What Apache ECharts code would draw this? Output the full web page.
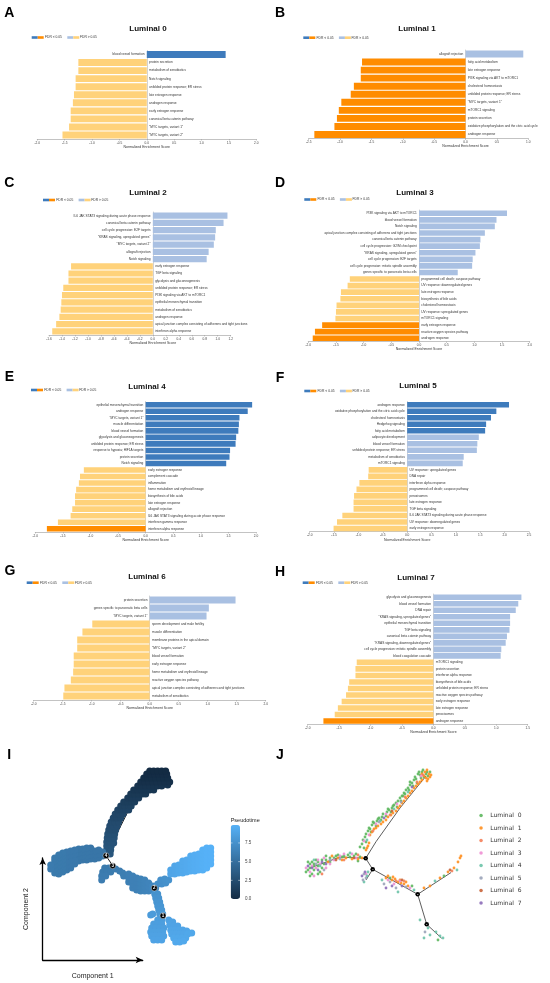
<!DOCTYPE html>
<html>
<head>
<meta charset="utf-8">
<script src="https://cdn.jsdelivr.net/npm/echarts@6/dist/echarts.min.js"></script>
<style>
html, body { margin: 0; padding: 0; background: #fff; }
#main { width: 550px; height: 983px; }
</style>
</head>
<body>
<div id="main"></div>
<script>
// ---- GSEA bar panels (NES, FDR<0.05 flag) ----
var lum0Terms = ['blood vessel formation', 'protein secretion', 'metabolism of xenobiotics', 'Notch signaling',
    'unfolded protein response; ER stress', 'late estrogen response', 'androgen response', 'early estrogen response',
    'canonical beta catenin pathway', '"MYC targets, variant 1"', '"MYC targets, variant 2"'];
var lum0Nes = [1.44, -1.25, -1.25, -1.30, -1.30, -1.33, -1.35, -1.39, -1.39, -1.42, -1.54];
var lum0Sig = [1, 0, 0, 0, 0, 0, 0, 0, 0, 0, 0];

var lum1Terms = ['allograft rejection', 'fatty acid metabolism', 'late estrogen response', 'PI3K signaling via AKT to mTORC1',
    'cholesterol homeostasis', 'unfolded protein response; ER stress', '"MYC targets, variant 1"', 'mTORC1 signaling',
    'protein secretion', 'oxidative phosphorylation and the citric acid cycle', 'androgen response'];
var lum1Nes = [0.92, -1.65, -1.67, -1.67, -1.78, -1.83, -1.98, -2.02, -2.05, -2.09, -2.41];
var lum1Sig = [0, 1, 1, 1, 1, 1, 1, 1, 1, 1, 1];

var lum2Terms = ['IL6 JAK STAT3 signaling during acute phase response', 'canonical beta catenin pathway',
    'cell cycle progression: E2F targets', '"KRAS signaling, upregulated genes"', '"MYC targets, variant 2"',
    'allograft rejection', 'Notch signaling', 'early estrogen response', 'TGF beta signaling',
    'glycolysis and gluconeogenesis', 'unfolded protein response; ER stress', 'PI3K signaling via AKT to mTORC1',
    'epithelial mesenchymal transition', 'metabolism of xenobiotics', 'androgen response',
    'apical junction complex consisting of adherens and tight junctions', 'interferon alpha response'];
var lum2Nes = [1.15, 1.09, 0.97, 0.96, 0.94, 0.86, 0.83, -1.26, -1.30, -1.30, -1.38, -1.40, -1.41, -1.42, -1.44, -1.49, -1.55];
var lum2Sig = [0, 0, 0, 0, 0, 0, 0, 0, 0, 0, 0, 0, 0, 0, 0, 0, 0];

var lum3Terms = ['PI3K signaling via AKT to mTORC1', 'blood vessel formation', 'Notch signaling',
    'apical junction complex consisting of adherens and tight junctions', 'canonical beta catenin pathway',
    'cell cycle progression: G2/M checkpoint', '"KRAS signaling, upregulated genes"', 'cell cycle progression: E2F targets',
    'cell cycle progression: mitotic spindle assembly', 'genes specific to pancreatic beta cells',
    'programmed cell death; caspase pathway', 'UV response: downregulated genes', 'late estrogen response',
    'biosynthesis of bile acids', 'cholesterol homeostasis', 'UV response: upregulated genes', 'mTORC1 signaling',
    'early estrogen response', 'reactive oxygen species pathway', 'androgen response'];
var lum3Nes = [1.59, 1.40, 1.37, 1.19, 1.11, 1.10, 1.02, 0.97, 0.96, 0.70, -1.25, -1.29, -1.41, -1.42, -1.49, -1.50, -1.51, -1.75, -1.88, -1.92];
var lum3Sig = [0, 0, 0, 0, 0, 0, 0, 0, 0, 0, 0, 0, 0, 0, 0, 0, 0, 1, 1, 1];

var lum4Terms = ['epithelial mesenchymal transition', 'androgen response', '"MYC targets, variant 1"', 'muscle differentiation',
    'blood vessel formation', 'glycolysis and gluconeogenesis', 'unfolded protein response; ER stress',
    'response to hypoxia; HIF1A targets', 'protein secretion', 'Notch signaling', 'early estrogen response',
    'complement cascade', 'inflammation', 'heme metabolism and erythroid lineage', 'biosynthesis of bile acids',
    'late estrogen response', 'allograft rejection', 'IL6 JAK STAT3 signaling during acute phase response',
    'interferon gamma response', 'interferon alpha response'];
var lum4Nes = [1.93, 1.85, 1.70, 1.69, 1.68, 1.64, 1.63, 1.53, 1.52, 1.46, -1.12, -1.19, -1.21, -1.26, -1.28, -1.28, -1.33, -1.36, -1.59, -1.79];
var lum4Sig = [1, 1, 1, 1, 1, 1, 1, 1, 1, 1, 0, 0, 0, 0, 0, 0, 0, 0, 0, 1];

var lum5Terms = ['androgen response', 'oxidative phosphorylation and the citric acid cycle', 'cholesterol homeostasis',
    'Hedgehog signaling', 'fatty acid metabolism', 'adipocyte development', 'blood vessel formation',
    'unfolded protein response; ER stress', 'metabolism of xenobiotics', 'mTORC1 signaling',
    'UV response: upregulated genes', 'DNA repair', 'interferon alpha response', 'programmed cell death; caspase pathway',
    'peroxisomes', 'late estrogen response', 'TGF beta signaling', 'IL6 JAK STAT3 signaling during acute phase response',
    'UV response: downregulated genes', 'early estrogen response'];
var lum5Nes = [2.09, 1.83, 1.72, 1.62, 1.60, 1.47, 1.44, 1.43, 1.16, 1.14, -0.79, -0.80, -0.98, -1.04, -1.09, -1.10, -1.10, -1.33, -1.44, -1.51];
var lum5Sig = [1, 1, 1, 1, 1, 0, 0, 0, 0, 0, 0, 0, 0, 0, 0, 0, 0, 0, 0, 0];

var lum6Terms = ['protein secretion', 'genes specific to pancreatic beta cells', '"MYC targets, variant 1"',
    'sperm development and male fertility', 'muscle differentiation', 'membrane proteins in the apical domain',
    '"MYC targets, variant 2"', 'blood vessel formation', 'early estrogen response', 'heme metabolism and erythroid lineage',
    'reactive oxygen species pathway', 'apical junction complex consisting of adherens and tight junctions',
    'metabolism of xenobiotics'];
var lum6Nes = [1.48, 1.02, 0.98, -0.99, -1.16, -1.25, -1.25, -1.31, -1.31, -1.32, -1.36, -1.47, -1.49];
var lum6Sig = [0, 0, 0, 0, 0, 0, 0, 0, 0, 0, 0, 0, 0];

var lum7Terms = ['glycolysis and gluconeogenesis', 'blood vessel formation', 'DNA repair', '"KRAS signaling, upregulated genes"',
    'epithelial mesenchymal transition', 'TGF beta signaling', 'canonical beta catenin pathway',
    '"KRAS signaling, downregulated genes"', 'cell cycle progression: mitotic spindle assembly', 'blood coagulation cascade',
    'mTORC1 signaling', 'protein secretion', 'interferon alpha response', 'biosynthesis of bile acids',
    'unfolded protein response; ER stress', 'reactive oxygen species pathway', 'early estrogen response',
    'late estrogen response', 'peroxisomes', 'androgen response'];
var lum7Nes = [1.40, 1.35, 1.31, 1.22, 1.22, 1.21, 1.17, 1.15, 1.08, 1.07, -1.22, -1.24, -1.24, -1.34, -1.36, -1.39, -1.46, -1.52, -1.57, -1.75];
var lum7Sig = [0, 0, 0, 0, 0, 0, 0, 0, 0, 0, 0, 0, 0, 0, 0, 0, 0, 0, 0, 1];

// ---- panel I: cells [component1, component2, pseudotime] ----
var topBranchCells = [
    [64,106,3.2],[67.5,106,3.2],[64,110,3.1],[68,110,3.1],[64,114,3.0],[68.5,114,3.0],
    [64,118,2.9],[67.5,118,2.9],[71,117,2.9],[64.5,122,2.8],[68,122,2.8],[71.5,122,2.8],
    [65,126,2.7],[68.5,126,2.7],[72,126,2.7],[66,130,2.5],[69.5,130,2.5],[73,130,2.5],
    [67,134,2.4],[70.5,134,2.4],[74.5,134,2.4],[68.5,138,2.3],[72,138,2.3],[76,138,2.3],
    [70.5,142,2.1],[74,142,2.1],[78,142,2.1],[72.5,146,2.0],[76.5,146,2.0],[80.5,146,2.0],
    [75,150,1.8],[79,150,1.8],[83,150,1.8],[86,150,1.8],[78,154,1.6],[82,154,1.6],[86,154,1.6],[88.5,154,1.6],
    [81,158,1.4],[85,158,1.4],[89,158,1.4],[92,158,1.4],[85,162,1.2],[89,162,1.2],[93,162,1.2],[96,162,1.2],
    [88,166,1.0],[92,166,1.0],[96,166,1.0],[100,166,1.0],[103,166,1.0],
    [91,170,0.8],[95,170,0.8],[99,170,0.8],[103,170,0.8],[107,170,0.8],[111,170,0.8],
    [95,174,0.6],[99,174,0.6],[103,174,0.6],[107,174,0.6],[111,174,0.6],[115,174,0.6],[119,174,0.6],[125,175,0.6],
    [98,178,0.4],[102,178,0.4],[106,178,0.4],[110,178,0.4],[114,178,0.4],[118,178,0.4],[122,178,0.4],[127,178,0.4],
    [101,182,0.2],[105,182,0.2],[109,182,0.2],[113,182,0.2],[117,182,0.2],[121,182,0.2],[125,182,0.2],
    [104,186,0.1],[108,186,0.1],[112,186,0.1],[116,186,0.1],[120,186,0.1],[124,186,0.1],
    [107,189,0],[111,189,0],[115,189,0],[119,189,0],[123,189,0]
];
var leftBranchCells = [
    [60,104,5.4],[60,108,5.4],[56,102,5.5],[56,106,5.5],[56,110,5.5],[52,101,5.5],[52,105,5.5],[52,109,5.5],
    [48,101,5.5],[48,105,5.5],[48,109,5.5],[48,112,5.5],[44,100,5.6],[44,104,5.6],[44,108,5.6],[44,112,5.6],
    [40,100,5.6],[40,104,5.6],[40,108,5.6],[40,111,5.6],[36,99,5.6],[36,103,5.6],[36,107,5.6],[36,111,5.6],
    [32,96,5.7],[32,100,5.7],[32,106,5.7],[32,110,5.7],[28,92,5.7],[28,96,5.7],[28,100,5.7],[28,105,5.7],[28,109,5.7],
    [24,90,5.7],[24,94,5.7],[24,98,5.7],[24,104,5.7],[24,108,5.7],
    [20,88,5.8],[20,92,5.8],[20,96,5.8],[20,100,5.8],[20,104,5.8],[20,107,5.8],
    [16,86,5.8],[16,90,5.8],[16,94,5.8],[16,98,5.8],[16,102,5.8],[16,105,5.8],
    [12,87,5.8],[12,91,5.8],[12,95,5.8],[12,99,5.8],[12,102,5.8],[8,91,5.9],[8,95,5.9]
];
var lobeCells = [[62,92,5.8],[66,92,5.8],[70,92,5.8],[60,88,5.9],[64,88,5.9],[68,88,5.9],[59,84,6.0],[63,84,6.0],[59,80,6.0]];
var middleCells = [
    [73,91,6.0],[77,89,6.0],[80,87,6.1],[81,84,6.1],[86,78,6.2],[86,82,6.2],[86,86,6.2],
    [90,72,6.3],[90,76,6.3],[90,80,6.3],[90,84,6.3],[94,70,6.3],[94,74,6.3],[94,78,6.3],[94,82,6.3],
    [98,69,6.4],[98,73,6.4],[98,77,6.4],[98,81,6.4],[102,69,6.5],[102,73,6.5],[102,77,6.5],[102,80,6.5],
    [106,69,6.6],[106,73,6.6],[106,77,6.6],[110,70,6.8],[110,74,6.8],[113,72,6.9]
];
var rightBranchCells = [
    [115,76,7.3],[119,76,7.4],[123,77,7.5],[118,80,7.4],[122,81,7.5],[126,80,7.6],
    [128,86,9.0],[128,90,9.0],[132,86,9.1],[132,90,9.1],[132,94,9.1],[136,87,9.2],[136,91,9.2],[136,95,9.2],
    [140,87,9.3],[140,91,9.3],[140,95,9.3],[140,99,9.3],[144,88,9.4],[144,92,9.4],[144,96,9.4],[144,100,9.4],
    [148,89,9.5],[148,93,9.5],[148,97,9.5],[148,101,9.5],[148,104,9.5],[152,89,9.6],[152,93,9.6],[152,97,9.6],[152,101,9.6],[152,105,9.6],
    [156,90,9.7],[156,94,9.7],[156,98,9.7],[156,102,9.7],[156,106,9.7],
    [160,90,9.8],[160,94,9.8],[160,98,9.8],[160,102,9.8],[160,106,9.8],[160,110,9.8],
    [164,92,9.9],[164,96,9.9],[164,100,9.9],[164,104,9.9],[164,108,9.9],[164,112,9.9],
    [168,96,9.9],[168,100,9.9],[168,104,9.9],[168,108,9.9],[168,112,9.9]
];
var stemCells = [[112,66,7.6],[115,66,7.6],[113,62,7.7],[116,62,7.7],[114,58,7.8],[117,58,7.8],
    [115,54,7.9],[118,54,7.9],[116,50,8.0],[119,50,8.0],[117,46,8.1],[120,46,8.1],[110,46,8.3],[108,45,8.3]];
var bottomCells = [
    [115,40,8.4],[119,40,8.4],[111,36,8.5],[115,36,8.5],[119,36,8.5],[109,32,8.6],[113,32,8.6],[117,32,8.6],[121,32,8.6],
    [108,28,8.7],[112,28,8.7],[116,28,8.7],[120,28,8.7],[109,24,8.8],[113,24,8.8],[117,24,8.8],[121,24,8.8],
    [111,20,8.9],[115,20,8.9],[119,20,8.9],
    [126,40,8.8],[130,38,8.8],[127,35,8.9],[131,34,8.9],[135,34,8.9],[128,30,9.0],[132,30,9.0],[136,30,9.0],[140,30,9.0],[144,29,9.1],
    [129,26,9.1],[133,26,9.1],[137,26,9.1],[141,26,9.1],[145,26,9.2],[149,27,9.2],
    [131,22,9.2],[135,22,9.2],[139,22,9.2],[143,22,9.2],[133,18,9.3],[137,18,9.3],[141,19,9.3]
];
var iEdges = [
    [[63.3,104.3],[72,122],[86,150],[100,170],[117,184]],
    [[63.3,104.3],[40,104],[10,93]],
    [[63.3,104.3],[70,94.3],[111.6,72]],
    [[70,94.3],[60,82]],
    [[111.6,72],[128,86],[166,106]],
    [[111.6,72],[120.3,44.3]],
    [[120.3,44.3],[114,26]],
    [[120.3,44.3],[138,26]]
];
var iNodes = [[120.3,44.3,'1'],[111.6,72,'2'],[70,94.3,'3'],[63.3,104.3,'4']];
var pseudoTicks = [0, 2.5, 5, 7.5];

// ---- panel J: cells by cluster [component1, component2] ----
var clusterNames = ['Luminal  0', 'Luminal  1', 'Luminal  2', 'Luminal  3', 'Luminal  4', 'Luminal  5', 'Luminal  6', 'Luminal  7'];
var lum0Cells = [[62,116],[65,123],[68,129],[72,135],[77,139],[82,143],[87,148],[92,152],[96,157],[100,162],[104,167],[108,172],
    [112,177],[116,181],[120,185],[118,186],[122,188],[126,186],[124,183],[128,184],[66,118],[70,131],[74,137],[79,142],
    [89,150],[94,155],[103,164],[110,175],[114,180],
    [60,113],[63,120],[66,126],[69,132],[73,138],[78,141],[83,146],[88,151],[93,154],[98,159],[102,164],[106,170],
    [110,178],[115,183],[119,188],[123,190],[127,188],[130,188],[64,112],[71,128],[76,134],[81,140],[86,144],[91,148],
    [97,153],[101,159],[105,166],[109,170],[113,174],[117,177],[121,182],
    [8,90],[12,86],[14,94],[18,98],[22,92],[26,100],[10,96],[30,102],[36,104],[42,103],[48,105],[54,104],[60,103],
    [20,88],[16,100],[24,96],[12,98],[6,88],[10,84],[14,90],[18,94],[22,100],[26,104],[30,98],[34,102],[38,105],
    [44,104],[50,103],[56,106],[58,99],[10,92],[14,96],[18,86],[8,98],
    [90,82],[112,74],[144,84],[138,20]];
var lum1Cells = [[70,125],[74,131],[78,134],[83,138],[88,143],[93,147],[98,152],[102,157],[106,162],[110,167],[114,172],
    [118,176],[122,180],[126,182],[129,186],[125,188],[130,183],[127,179],[67,112],[69,117],
    [72,128],[76,132],[81,136],[86,140],[91,145],[96,149],[100,154],[104,159],[108,164],[112,169],[116,174],[120,178],
    [124,184],[128,181],[131,185],[127,190],[122,186],[66,110],[68,114],
    [38,102],[46,102],[52,101],[58,101],[62,102],[32,104],[28,98],[42,100],
    [86,82],[92,80],[98,78],[104,76],[108,74],[95,81],[101,77],[88,84],[100,80],[106,78],[93,83],
    [140,82],[148,88],[154,92],[158,98],[160,102],[161,104],[130,74],[124,72]];
var lum2Cells = [[73,129],[90,145],[105,163],[117,178],[22,86],[44,100],[58,105],[96,79],[104,79],[152,89],[123,185]];
var lum3Cells = [[64,119],[69,125],[76,136],[86,146],[97,156],[121,184],[10,88],[16,92],[20,96],[24,102],[34,100],[44,106],
    [56,102],[14,84],[66,86],[88,80],[100,79],[94,76],[110,72],[6,92],[12,94],[18,100],[26,92],[30,96],[40,104],[52,106]];
var lum4Cells = [[67,120],[80,139],[94,151],[108,168],[20,94],[50,107],[14,100],[67,84],[64,78],[68,88],[82,80],[114,70],
    [98,68],[135,79],[157,90],[124,22],[130,25],[140,24],[143,22],[136,28],[128,32],[120,40]];
var lum5Cells = [[79,138],[101,158],[16,96],[24,90],[30,100],[40,101],[64,86],[66,82],[63,80],[90,78],[84,76],[96,72],[106,73],[125,28]];
var lum6Cells = [[92,149],[36,100],[54,102],[102,80],[150,90]];
var lum7Cells = [[84,142],[112,173],[12,92],[18,90],[22,98],[8,94],[26,96],[62,84],[65,88],[92,74],[102,74],[86,72]];
var jEdges = [
    [[65.7,101.7],[76,118.3],[100,152],[126,184]],
    [[65.7,101.7],[40,103],[10,92]],
    [[65.7,101.7],[72.7,90.7],[117.7,65.7]],
    [[72.7,90.7],[66,80]],
    [[117.7,65.7],[160,93.3]],
    [[117.7,65.7],[126.7,35.7],[141.7,21.7]]
];
var jNodes = [[126.7,35.7,'1'],[117.7,65.7,'2'],[72.7,90.7,'3'],[65.7,101.7,'4']];

// ---- styling / layout ----
var FONT = 'Liberation Sans, Arial, sans-serif';
var COL = { upSig: '#3E7BBC', downSig: '#FF8C00', up: '#A9C0E2', down: '#FFD27A' };
var clusterColors = ['#5DB75E', '#FF8F1F', '#F4805A', '#EE8FD3', '#6CC3A8', '#9AA3B8', '#C8643A', '#8C6BB8'];

var panels = [
    { letter: 'A', title: 'Luminal 0', terms: lum0Terms, nes: lum0Nes, sig: lum0Sig, min: -2, max: 2, step: 0.5,
      x0: 37.3, x1: 256.3, top: 50.5, axisY: 139, titleX: 148, titleY: 29, legX: 31.7, legY: 37.5, lx: 9.3, ly: 13.3 },
    { letter: 'B', title: 'Luminal 1', terms: lum1Terms, nes: lum1Nes, sig: lum1Sig, min: -2.5, max: 1, step: 0.5,
      x0: 308.7, x1: 528.3, top: 50, axisY: 138.5, titleX: 417, titleY: 29, legX: 303.3, legY: 37.7, lx: 280, ly: 13.3 },
    { letter: 'C', title: 'Luminal 2', terms: lum2Terms, nes: lum2Nes, sig: lum2Sig, min: -1.6, max: 1.2, step: 0.2,
      x0: 49, x1: 230.7, top: 212, axisY: 335, titleX: 148, titleY: 193, legX: 43, legY: 200, lx: 9.3, ly: 183 },
    { letter: 'D', title: 'Luminal 3', terms: lum3Terms, nes: lum3Nes, sig: lum3Sig, min: -2, max: 2, step: 0.5,
      x0: 308.3, x1: 529.7, top: 210, axisY: 341.5, titleX: 415, titleY: 193, legX: 304.3, legY: 199.5, lx: 280, ly: 183 },
    { letter: 'E', title: 'Luminal 4', terms: lum4Terms, nes: lum4Nes, sig: lum4Sig, min: -2, max: 2, step: 0.5,
      x0: 35.3, x1: 256, top: 401.5, axisY: 532, titleX: 147, titleY: 387, legX: 31, legY: 390, lx: 9.3, ly: 376.7 },
    { letter: 'F', title: 'Luminal 5', terms: lum5Terms, nes: lum5Nes, sig: lum5Sig, min: -2, max: 2.5, step: 0.5,
      x0: 309.7, x1: 529, top: 401.5, axisY: 531.7, titleX: 418, titleY: 386, legX: 304.3, legY: 391, lx: 280, ly: 377.7 },
    { letter: 'G', title: 'Luminal 6', terms: lum6Terms, nes: lum6Nes, sig: lum6Sig, min: -2, max: 2, step: 0.5,
      x0: 33.7, x1: 265.7, top: 596, axisY: 700, titleX: 147, titleY: 576.7, legX: 26.7, legY: 582.7, lx: 10, ly: 570.7 },
    { letter: 'H', title: 'Luminal 7', terms: lum7Terms, nes: lum7Nes, sig: lum7Sig, min: -2, max: 1.5, step: 0.5,
      x0: 307.7, x1: 527.7, top: 594, axisY: 724.3, titleX: 416, titleY: 577.7, legX: 302.7, legY: 582.7, lx: 280, ly: 571.7 }
];

function txt(x, y, s, size, opts) {
    opts = opts || {};
    return {
        type: 'text', x: x, y: y, silent: true,
        style: {
            text: s, fontSize: size, fontFamily: opts.family || FONT, fontWeight: opts.weight || 'normal',
            fill: opts.color || '#333', textAlign: opts.align || 'center', textVerticalAlign: 'middle'
        }
    };
}
function box(x, y, w, h, color) {
    return { type: 'rect', silent: true, shape: { x: x, y: y, width: w, height: h }, style: { fill: color } };
}

var grids = [], xAxes = [], yAxes = [], series = [], graphics = [];

panels.forEach(function(p, k) {
    grids.push({ left: p.x0, top: p.top, width: p.x1 - p.x0, height: p.axisY - p.top });
    xAxes.push({
        gridIndex: k, type: 'value', min: p.min, max: p.max, interval: p.step,
        axisLine: { show: true, onZero: false, lineStyle: { color: '#9a9a9a', width: 0.6 } },
        axisTick: { show: true, length: 1.5, lineStyle: { color: '#9a9a9a', width: 0.5 } },
        axisLabel: { fontSize: 3.2, color: '#444', margin: 2.2, fontFamily: FONT,
            formatter: function(v) { return v.toFixed(1); } },
        splitLine: { show: false }
    });
    yAxes.push({
        gridIndex: k, type: 'category', data: p.terms, inverse: true,
        axisLine: { show: true, lineStyle: { color: '#b5b5b5', width: 0.6 } },
        axisTick: { show: false }, axisLabel: { show: false }
    });
    series.push({
        type: 'bar', xAxisIndex: k, yAxisIndex: k, barCategoryGap: '14%', silent: true,
        data: p.nes.map(function(v, i) {
            var c = v > 0 ? (p.sig[i] ? COL.upSig : COL.up) : (p.sig[i] ? COL.downSig : COL.down);
            return { value: v, itemStyle: { color: c }, label: { position: v > 0 ? 'left' : 'right' } };
        }),
        label: { show: true, distance: 2.3, fontSize: 3.2, color: '#333', fontFamily: FONT,
            formatter: function(d) { return d.name; } }
    });

    var zeroX = p.x0 + (0 - p.min) / (p.max - p.min) * (p.x1 - p.x0);
    graphics.push(txt(p.lx, p.ly, p.letter, 14, { weight: 'bold', color: '#000' }));
    graphics.push(txt(p.titleX, p.titleY, p.title, 8, { weight: 'bold', color: '#111' }));
    graphics.push(txt(zeroX, p.axisY + 8, 'Normalized Enrichment Score', 3.5));
    graphics.push(box(p.legX, p.legY - 1.3, 6, 2.6, COL.upSig));
    graphics.push(box(p.legX + 6, p.legY - 1.3, 6, 2.6, COL.downSig));
    graphics.push(txt(p.legX + 13.3, p.legY, 'FDR < 0.05', 3.3, { align: 'left' }));
    graphics.push(box(p.legX + 35.6, p.legY - 1.3, 6, 2.6, COL.up));
    graphics.push(box(p.legX + 41.6, p.legY - 1.3, 6, 2.6, COL.down));
    graphics.push(txt(p.legX + 48.3, p.legY, 'FDR > 0.05', 3.3, { align: 'left' }));
});

// ---- panel I: pseudotime trajectory ----
var gI = grids.length;
grids.push({ left: 42.7, top: 858, width: 100, height: 102 });
xAxes.push({
    gridIndex: gI, type: 'value', min: 0, max: 100,
    axisLine: { show: true, onZero: false, symbol: ['none', 'arrow'], symbolSize: [5, 7], lineStyle: { color: '#000', width: 1.3 } },
    axisTick: { show: false }, axisLabel: { show: false }, splitLine: { show: false },
    name: 'Component 1', nameLocation: 'middle', nameGap: 12.7,
    nameTextStyle: { fontSize: 7, color: '#222', fontFamily: FONT }
});
yAxes.push({
    gridIndex: gI, type: 'value', min: 0, max: 102,
    axisLine: { show: true, onZero: false, symbol: ['none', 'arrow'], symbolSize: [5, 7], lineStyle: { color: '#000', width: 1.3 } },
    axisTick: { show: false }, axisLabel: { show: false }, splitLine: { show: false },
    name: 'Component 2', nameLocation: 'middle', nameGap: 13.4,
    nameTextStyle: { fontSize: 7, color: '#222', fontFamily: FONT }
});
iEdges.forEach(function(e) {
    series.push({ type: 'line', xAxisIndex: gI, yAxisIndex: gI, data: e, symbol: 'none', clip: false, silent: true,
        z: 1, lineStyle: { color: '#000', width: 0.9 } });
});
var iCellSeries = series.length;
series.push({
    type: 'scatter', xAxisIndex: gI, yAxisIndex: gI, clip: false, silent: true, symbolSize: 7, z: 2,
    itemStyle: { opacity: 1 },
    data: [].concat(topBranchCells, leftBranchCells, lobeCells, middleCells, rightBranchCells, stemCells, bottomCells)
});
series.push({
    type: 'scatter', xAxisIndex: gI, yAxisIndex: gI, clip: false, silent: true, symbolSize: 6, z: 3,
    data: iNodes, itemStyle: { color: '#000', opacity: 1, borderColor: '#fff', borderWidth: 0.4 },
    label: { show: true, position: 'inside', color: '#fff', fontSize: 4.5, fontWeight: 'bold', fontFamily: FONT,
        formatter: function(d) { return d.value[2]; } }
});

var cbTop = 825, cbH = 74, cbMax = 9.9;
graphics.push(txt(9.3, 755, 'I', 14, { weight: 'bold', color: '#000' }));
graphics.push(txt(230.7, 820, 'Pseudotime', 5.5, { align: 'left', color: '#222' }));
pseudoTicks.forEach(function(v) {
    var y = cbTop + (1 - v / cbMax) * cbH;
    graphics.push(txt(245, y, v.toFixed(1), 4.5, { align: 'left', color: '#444' }));
    graphics.push({ type: 'line', silent: true, z: 100, shape: { x1: 230.7, y1: y, x2: 232.5, y2: y }, style: { stroke: '#fff', lineWidth: 0.5 } });
    graphics.push({ type: 'line', silent: true, z: 100, shape: { x1: 238.2, y1: y, x2: 240, y2: y }, style: { stroke: '#fff', lineWidth: 0.5 } });
});

// ---- panel J: clusters along the trajectory ----
var gJ = grids.length;
grids.push({ left: 300, top: 770, width: 150, height: 190 });
xAxes.push({ gridIndex: gJ, type: 'value', min: 0, max: 150, show: false });
yAxes.push({ gridIndex: gJ, type: 'value', min: 0, max: 190, show: false });
jEdges.forEach(function(e) {
    series.push({ type: 'line', xAxisIndex: gJ, yAxisIndex: gJ, data: e, symbol: 'none', clip: false, silent: true,
        z: 1, lineStyle: { color: '#333', width: 0.8 } });
});
[lum0Cells, lum1Cells, lum2Cells, lum3Cells, lum4Cells, lum5Cells, lum6Cells, lum7Cells].forEach(function(cells, i) {
    series.push({
        name: clusterNames[i], type: 'scatter', xAxisIndex: gJ, yAxisIndex: gJ, clip: false, silent: true,
        symbolSize: 2.8, z: 2, data: cells, itemStyle: { color: clusterColors[i], opacity: 0.9 }
    });
});
series.push({
    type: 'scatter', xAxisIndex: gJ, yAxisIndex: gJ, clip: false, silent: true, symbolSize: 4.5, z: 3,
    data: jNodes, itemStyle: { color: '#000', opacity: 1 },
    label: { show: true, position: 'inside', color: '#fff', fontSize: 2.5, fontFamily: FONT,
        formatter: function(d) { return d.value[2]; } }
});
graphics.push(txt(280, 755, 'J', 14, { weight: 'bold', color: '#000' }));

var chart = echarts.init(document.getElementById('main'));
chart.setOption({
    animation: false,
    backgroundColor: '#fff',
    grid: grids,
    xAxis: xAxes,
    yAxis: yAxes,
    series: series,
    visualMap: [{
        type: 'continuous', seriesIndex: iCellSeries, dimension: 2, min: 0, max: cbMax,
        inRange: { color: ['#132B43', '#56B1F7'] }, calculable: false, orient: 'vertical',
        left: 230.7, top: cbTop, itemWidth: 9.3, itemHeight: cbH, padding: 0, text: null, hoverLink: false
    }],
    legend: {
        data: clusterNames, orient: 'vertical', left: 479.3, top: 812.5, padding: 0, icon: 'circle',
        itemWidth: 3.5, itemHeight: 3.5, itemGap: 6.5, selectedMode: false,
        textStyle: { fontSize: 6, color: '#333', fontFamily: 'DejaVu Sans, sans-serif', padding: [0, 0, 0, 2.5] }
    },
    graphic: graphics
});
</script>
</body>
</html>
